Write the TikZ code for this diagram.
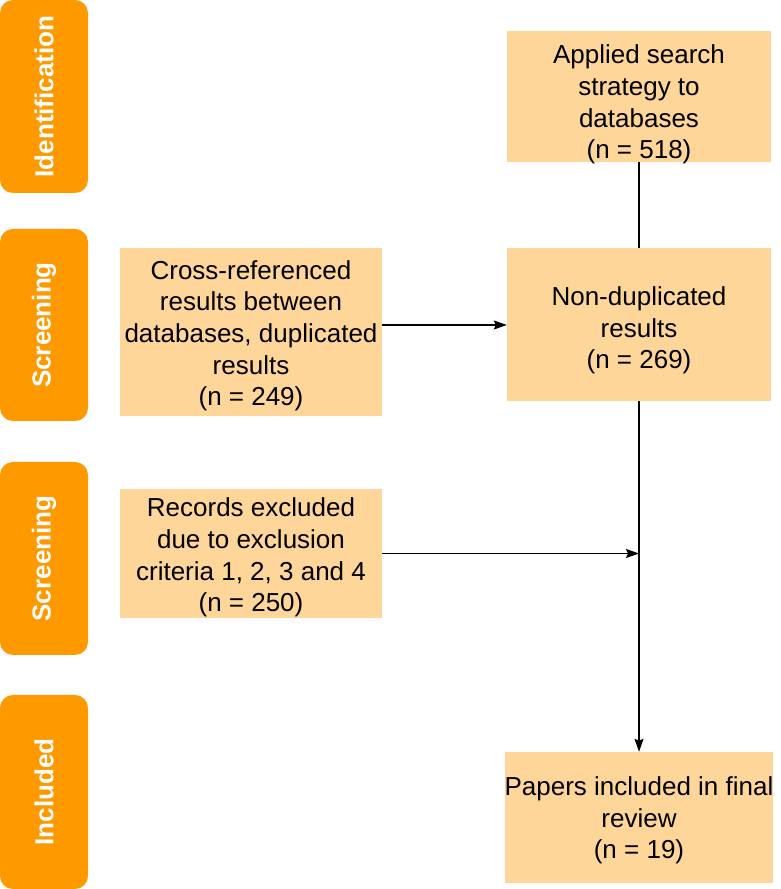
\documentclass[tikz,border=0pt]{standalone}
\usepackage{fontspec}
\setmainfont{Liberation Sans}
\usepackage{xcolor}
\usepackage{tikz}
\usetikzlibrary{arrows.meta, calc}

\definecolor{taborange}{RGB}{255,153,0}
\definecolor{boxpeach}{RGB}{255,214,153}

\begin{document}
\begin{tikzpicture}[x=1pt, y=1pt,
        phasetab/.style={fill=taborange, rounded corners=13pt, minimum width=88pt, inner sep=0pt},
        phasetext/.style={rotate=90, text=white, font=\fontsize{26}{29}\selectfont\bfseries},
        stagebox/.style={fill=boxpeach, align=center, inner sep=0pt, font=\fontsize{26}{31.7}\selectfont},
        flow/.style={line width=1.4pt, -{Stealth[length=13pt, width=9pt, inset=2pt]}}]

        \useasboundingbox (0,0) rectangle (780,889);

        % phase tabs on the left
        \node[phasetab, minimum height=193pt] (tabid) at (44,792.5) {};
        \node[phasetext] at (tabid.center) {Identification};
        \node[phasetab, minimum height=192pt] (tabscreenA) at (44,564) {};
        \node[phasetext] at (tabscreenA.center) {Screening};
        \node[phasetab, minimum height=193pt] (tabscreenB) at (44,330.5) {};
        \node[phasetext] at (tabscreenB.center) {Screening};
        \node[phasetab, minimum height=194pt] (tabincl) at (44,97) {};
        \node[phasetext] at (tabincl.center) {Included};

        % flow boxes (text height/depth measured from the last line)
        \node[stagebox, minimum width=264pt, text height=128pt, text depth=3pt] (applied) at (639,792.5)
            {Applied search\\strategy to\\databases\\(n = 518)};
        \node[stagebox, minimum width=264pt, text height=121pt, text depth=32pt] (nondup) at (639,564.5)
            {Non-duplicated\\results\\(n = 269)};
        \node[stagebox, minimum width=262pt, text height=158pt, text depth=10pt] (crossref) at (251,557)
            {Cross-referenced\\results between\\databases, duplicated\\results\\(n = 249)};
        \node[stagebox, minimum width=262pt, text height=123pt, text depth=6pt] (excluded) at (251,335.5)
            {Records excluded\\due to exclusion\\criteria 1, 2, 3 and 4\\(n = 250)};
        \node[stagebox, minimum width=264pt, text height=107pt, text depth=24pt] (papers) at (639,71.5)
            {Papers included in final\\review\\(n = 19)};

        \coordinate (join) at (nondup.south |- excluded.east);

        % connectors
        \draw[line width=1.4pt] (applied.south) -- (nondup.north);
        \draw[flow] (crossref.east |- 0,564) -- (nondup.west |- 0,564);
        \draw[flow] (nondup.south) -- (papers.north);
        \draw[flow] (excluded.east) -- (join);

\end{tikzpicture}
\end{document}
